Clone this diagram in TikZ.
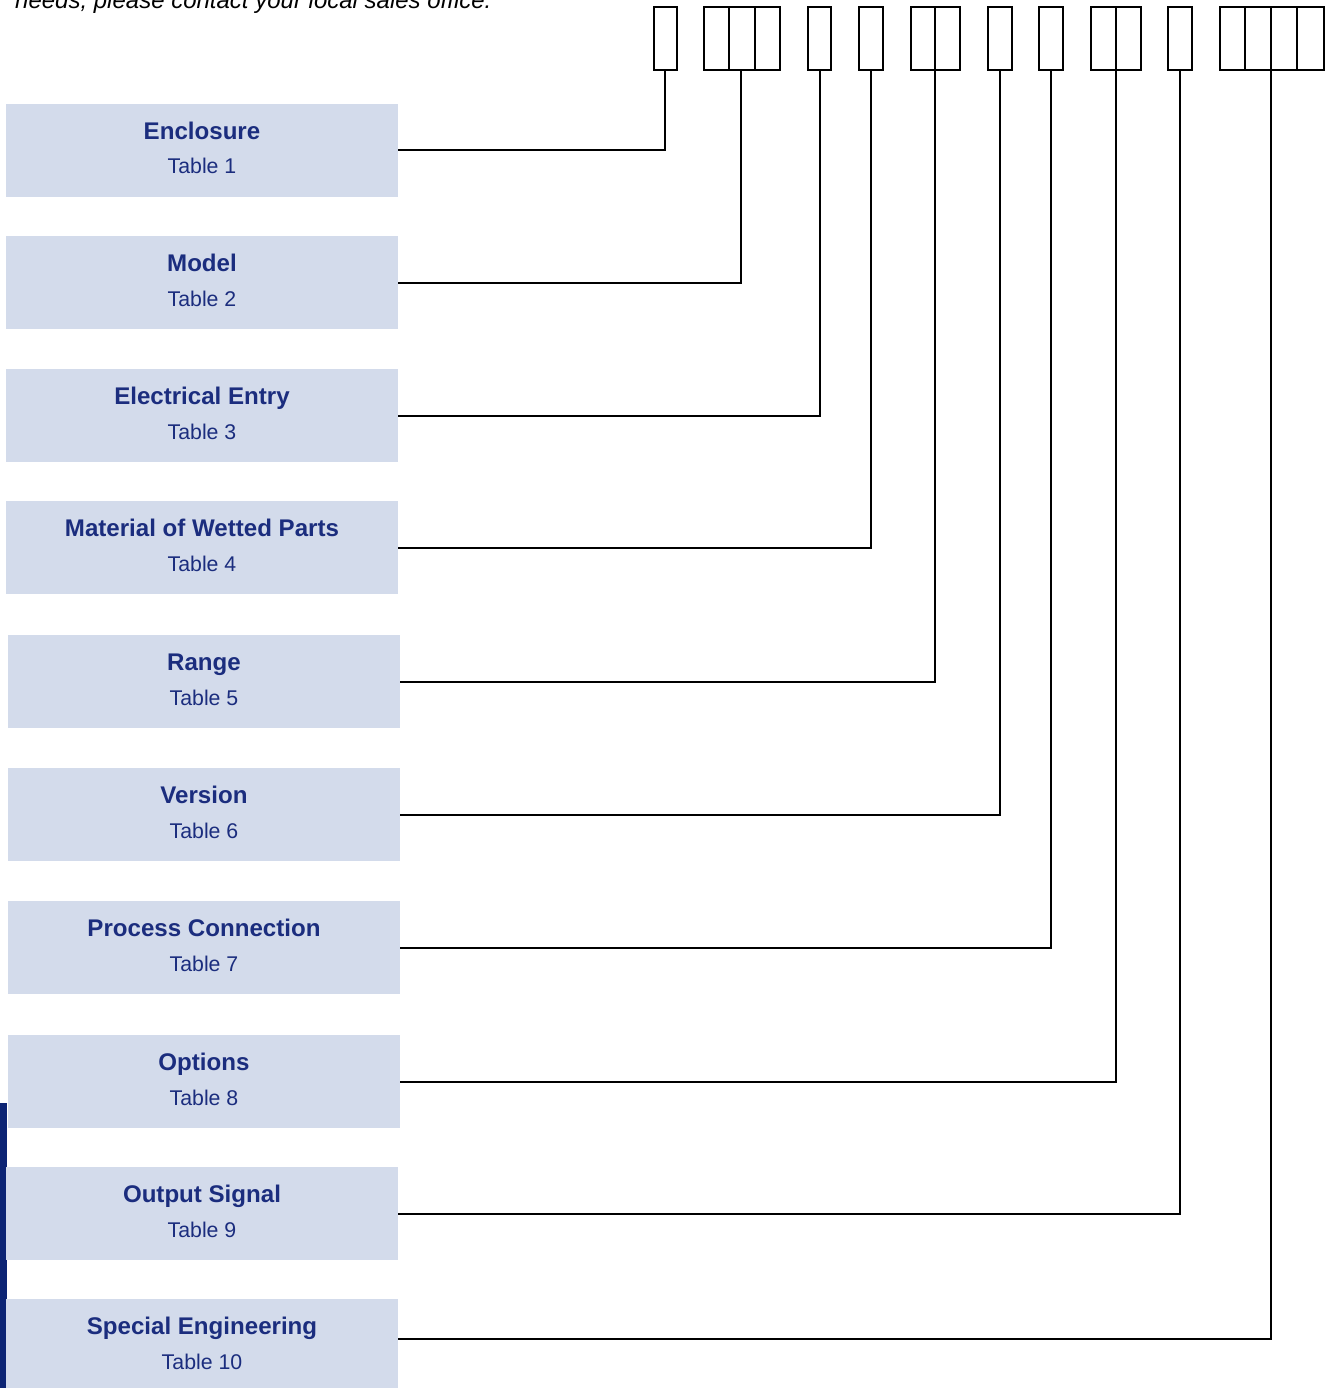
\documentclass[tikz,border=0pt]{standalone}
\usepackage{fontspec}
\setmainfont{Liberation Sans}
\definecolor{boxfill}{HTML}{D3DBEB}
\definecolor{navy}{HTML}{1B2D7E}
\definecolor{barblue}{HTML}{0C2474}
\begin{document}
\begin{tikzpicture}[x=1pt,y=-1pt,
  lbox/.style={fill=boxfill,draw=none,minimum width=392pt,minimum height=93pt,inner sep=0pt,outer sep=0pt},
  ttl/.style={anchor=base,inner sep=0pt,text=navy,font=\fontsize{24.1}{28}\selectfont\bfseries},
  tbl/.style={anchor=base,inner sep=0pt,text=navy,font=\fontsize{21.3}{25}\selectfont},
  cell/.style={draw=black,line width=2pt,minimum height=63pt,inner sep=0pt,outer sep=0pt},
  conn/.style={draw=black,line width=2pt}]
\useasboundingbox (0,0) rectangle (1330,1388);
\begin{scope}
\clip (0,0) rectangle (1330,1388);
% header text
\node[anchor=base west,inner sep=0pt,font=\fontsize{24}{28}\selectfont\itshape] (hdr) at (15,9) {needs, please contact your local sales office.};
% left bar
\fill[barblue] (0,1103) rectangle (7,1388);
% left boxes
\node[lbox] (b1) at (202,150.5) {};
\node[lbox] (b2) at (202,282.5) {};
\node[lbox] (b3) at (202,415.5) {};
\node[lbox] (b4) at (202,547.5) {};
\node[lbox] (b5) at (204,681.5) {};
\node[lbox] (b6) at (204,814.5) {};
\node[lbox] (b7) at (204,947.5) {};
\node[lbox] (b8) at (204,1081.5) {};
\node[lbox] (b9) at (202,1213.5) {};
\node[lbox] (b10) at (202,1345.5) {};
% labels
\node[ttl] (l1) at (202,139.5) {Enclosure};
\node[tbl] (m1) at (202,174) {Table 1};
\node[ttl] (l2) at (202,271.5) {Model};
\node[tbl] (m2) at (202,306) {Table 2};
\node[ttl] (l3) at (202,404.5) {Electrical Entry};
\node[tbl] (m3) at (202,439) {Table 3};
\node[ttl] (l4) at (202,536.5) {Material of Wetted Parts};
\node[tbl] (m4) at (202,571) {Table 4};
\node[ttl] (l5) at (204,670.5) {Range};
\node[tbl] (m5) at (204,705) {Table 5};
\node[ttl] (l6) at (204,803.5) {Version};
\node[tbl] (m6) at (204,838) {Table 6};
\node[ttl] (l7) at (204,936.5) {Process Connection};
\node[tbl] (m7) at (204,971) {Table 7};
\node[ttl] (l8) at (204,1070.5) {Options};
\node[tbl] (m8) at (204,1105) {Table 8};
\node[ttl] (l9) at (202,1202.5) {Output Signal};
\node[tbl] (m9) at (202,1237) {Table 9};
\node[ttl] (l10) at (202,1334.5) {Special Engineering};
\node[tbl] (m10) at (202,1369) {Table 10};
% top cells
\node[cell,minimum width=23pt] (t1) at (665.5,38.5) {};
\node[cell,minimum width=76pt] (t2) at (742,38.5) {};
\node[cell,minimum width=23pt] (t3) at (819.5,38.5) {};
\node[cell,minimum width=24pt] (t4) at (871,38.5) {};
\node[cell,minimum width=49pt] (t5) at (935.5,38.5) {};
\node[cell,minimum width=24pt] (t6) at (1000,38.5) {};
\node[cell,minimum width=24pt] (t7) at (1051,38.5) {};
\node[cell,minimum width=50pt] (t8) at (1116,38.5) {};
\node[cell,minimum width=24pt] (t9) at (1180,38.5) {};
\node[cell,minimum width=104pt] (t10) at (1272,38.5) {};
% cell dividers
\draw[conn] ([xshift=-13pt]t2.north) -- ([xshift=-13pt]t2.south);
\draw[conn] ([xshift=13pt]t2.north) -- ([xshift=13pt]t2.south);
\draw[conn] ([xshift=-0.5pt]t5.north) -- ([xshift=-0.5pt]t5.south);
\draw[conn] (t8.north) -- (t8.south);
\draw[conn] ([xshift=-27pt]t10.north) -- ([xshift=-27pt]t10.south);
\draw[conn] ([xshift=-1pt]t10.north) -- ([xshift=-1pt]t10.south);
\draw[conn] ([xshift=25pt]t10.north) -- ([xshift=25pt]t10.south);
% connectors
\draw[conn] (b1.east) -| ([xshift=-0.5pt]t1.south);
\draw[conn] (b2.east) -| ([xshift=-1pt]t2.south);
\draw[conn] (b3.east) -| ([xshift=0.5pt]t3.south);
\draw[conn] (b4.east) -| (t4.south);
\draw[conn] (b5.east) -| ([xshift=-0.5pt]t5.south);
\draw[conn] (b6.east) -| (t6.south);
\draw[conn] (b7.east) -| (t7.south);
\draw[conn] (b8.east) -| (t8.south);
\draw[conn] (b9.east) -| (t9.south);
\draw[conn] ([yshift=6.5pt]b10.east) -| ([xshift=-1pt]t10.south);
\end{scope}
\end{tikzpicture}
\end{document}
